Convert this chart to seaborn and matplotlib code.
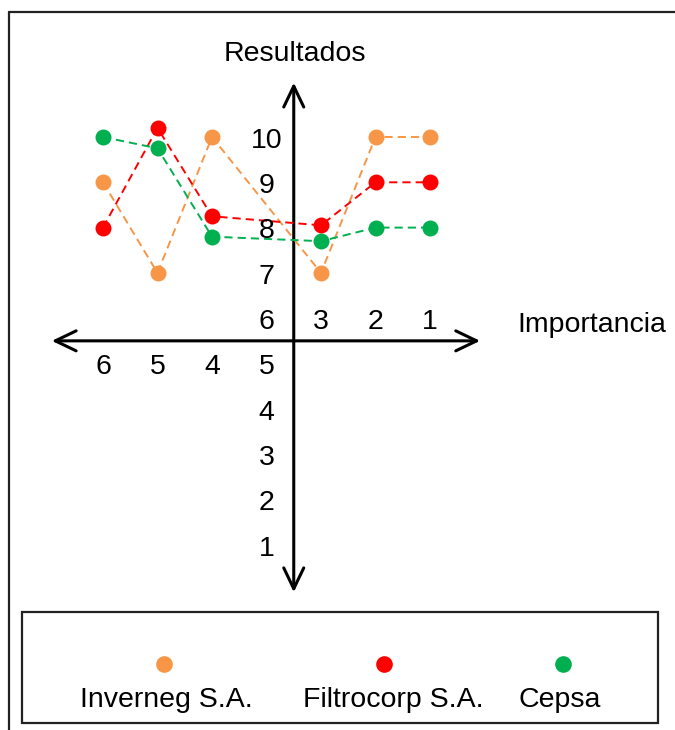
import matplotlib
matplotlib.use("Agg")
import matplotlib.pyplot as plt
from matplotlib.patches import Rectangle
from matplotlib.lines import Line2D
import pandas as pd
import seaborn as sns

# --- data -------------------------------------------------------------
importancia = [6, 5, 4, 3, 2, 1]
empresas = ["Inverneg S.A.", "Filtrocorp S.A.", "Cepsa"]
inverneg = [9, 7, 10, 7, 10, 10]
filtrocorp = [8, 10.2, 8.25, 8.05, 9, 9]
cepsa = [10, 9.75, 7.8, 7.7, 8, 8]
colores = ["#F79646", "#FF0000", "#00B050"]
escala_resultados = list(range(1, 11))


def posicion(i):
    # importance 6..4 sit left of the vertical axis, 3..1 to its right
    return 7 - i if i >= 4 else 8 - i


rows = []
for nombre, vals in zip(empresas, [inverneg, filtrocorp, cepsa]):
    for imp, v in zip(importancia, vals):
        rows.append({"Empresa": nombre, "Importancia": imp,
                     "pos": posicion(imp), "Resultado": v})
df = pd.DataFrame(rows)

sns.set_style("white")
plt.rcParams["font.family"] = ["Liberation Sans", "DejaVu Sans"]
plt.rcParams["text.color"] = "black"

W, H = 675, 730
fig = plt.figure(figsize=(W / 100, H / 100), dpi=100)
ax = fig.add_axes([0, 0, 1, 1])

# pixel layout: px = X0 + (pos-1)*DX ; py = Y0 + (10 - v)*DY
X0, DX = 103, 54.5
Y0, DY = 137, 45.3
ax.set_xlim(1 - X0 / DX, 1 + (W - X0) / DX)
ax.set_ylim(10 - (H - Y0) / DY, 10 + Y0 / DY)
ax.axis("off")

FS = 20.5
X_AXIS_POS = 4.5   # vertical axis between importance 4 and 3
Y_AXIS_VAL = 5.5   # horizontal axis between results 5 and 6
BASE = 0.24        # baseline offset so digits are centred on their value

# --- axes arrows --------------------------------------------------------
arrow = dict(arrowstyle="<->,head_length=1.5,head_width=0.72",
             lw=2.2, color="black", shrinkA=0, shrinkB=0)
ax.annotate("", xy=(7.92, Y_AXIS_VAL), xytext=(0.06, Y_AXIS_VAL),
            arrowprops=arrow, zorder=1)
ax.annotate("", xy=(X_AXIS_POS, 11.2), xytext=(X_AXIS_POS, -0.05),
            arrowprops=arrow, zorder=1)

# --- series -------------------------------------------------------------
sns.lineplot(data=df, x="pos", y="Resultado", hue="Empresa",
             hue_order=empresas, palette=dict(zip(empresas, colores)),
             marker="o", markersize=11.5, markeredgewidth=0,
             linewidth=1.4, linestyle=(0, (4.2, 2.6)),
             estimator=None, legend=False, ax=ax, zorder=3)
ax.axis("off")

# --- tick labels --------------------------------------------------------
for v in escala_resultados:
    ax.text(4.0, v - BASE, str(v), ha="center", va="baseline", fontsize=FS)
for imp in importancia:
    fila = 5 if imp >= 4 else 6
    ax.text(posicion(imp), fila - BASE, str(imp), ha="center",
            va="baseline", fontsize=FS)

ax.text(4.52, 11.68, "Resultados", ha="center", va="baseline", fontsize=FS)
ax.text(8.61, 5.70, "Importancia", ha="left", va="baseline", fontsize=FS)

# --- frame --------------------------------------------------------------
fx = lambda px: px / W
fy = lambda py: 1 - py / H
fig.add_artist(Line2D([fx(9), fx(9)], [fy(12), 0], color="#222222", lw=1.6,
                      transform=fig.transFigure))
fig.add_artist(Line2D([fx(9), 1], [fy(12), fy(12)], color="#222222", lw=1.6,
                      transform=fig.transFigure))

# --- legend -------------------------------------------------------------
fig.add_artist(Rectangle((fx(22), fy(723)), fx(658) - fx(22),
                         fy(612) - fy(723), fill=False, lw=1.6,
                         edgecolor="#222222", transform=fig.transFigure))
leyenda_x = [(164, 166), (384, 393), (563, 560)]
for nombre, color, (mx, tx) in zip(empresas, colores, leyenda_x):
    fig.add_artist(Line2D([fx(mx)], [fy(664)], marker="o", markersize=12,
                          markeredgewidth=0, color=color, linestyle="none",
                          transform=fig.transFigure))
    fig.text(fx(tx), fy(707), nombre, ha="center", va="baseline",
             fontsize=FS)

fig.savefig("out.png", dpi=100)
